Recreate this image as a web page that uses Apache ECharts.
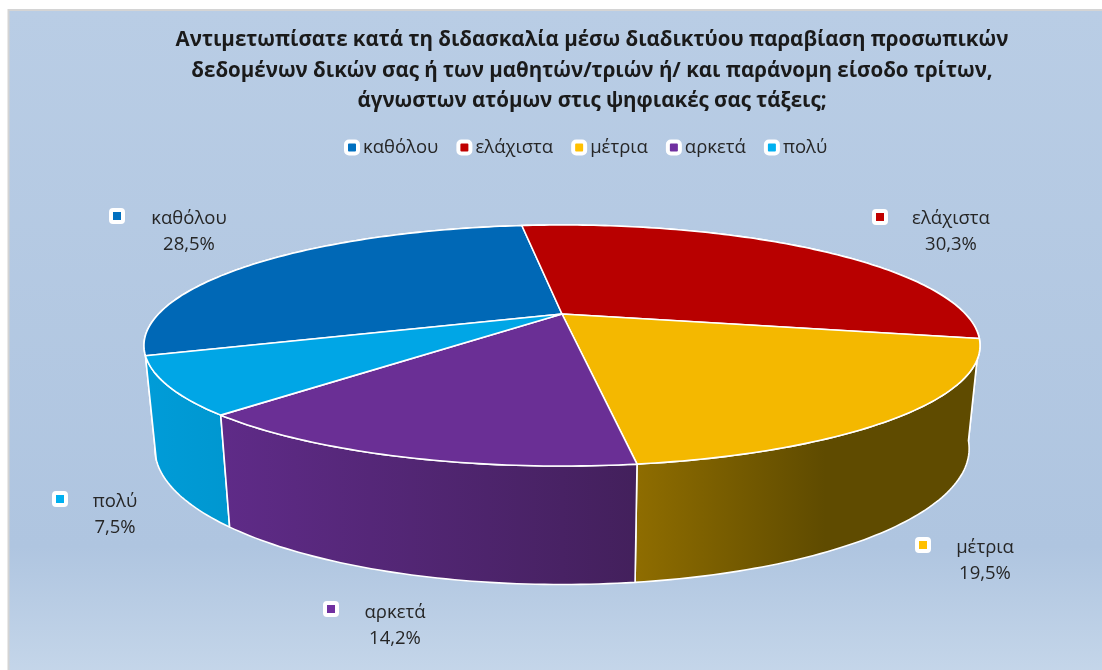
<!DOCTYPE html>
<html><head><meta charset="utf-8">
<style>html,body{margin:0;padding:0;background:#fff}#c{width:1102px;height:670px}</style>
<script src="https://cdn.jsdelivr.net/npm/echarts@6/dist/echarts.min.js"></script>
</head><body><div id="c"></div>
<script>
var categories = ['καθόλου','ελάχιστα','μέτρια','αρκετά','πολύ'];
var percents = [28.5,30.3,19.5,14.2,7.5];
var topColors = ['#0068b6','#b80000','#f4b800','#6a2f95','#00a6e6'];
var legendColors = ['#0070c0','#c00000','#ffc000','#7030a0','#00b0f0'];
var wallLeft = ['#004f8a','#8a0000','#8f6d00','#5f2b88','#009cd8'];
var wallRight = ['#004f8a','#8a0000','#5f4b00','#43205c','#0097d0'];
var wallMid = [1,1,0.55,1,1];
var wallOrder = [1,0,3,4,2];
var labelPos = [[117,216,189,219],[880,217,951,219],[923,545,985,548],[331,609,395,613],[60,499,115,502]];
var title = 'Αντιμετωπίσατε κατά τη διδασκαλία μέσω διαδικτύου παραβίαση προσωπικών\nδεδομένων δικών σας ή των μαθητών/τριών ή/ και παράνομη είσοδο τρίτων,\nάγνωστων ατόμων στις ψηφιακές σας τάξεις;';

var FONT = '"Open Sans"';
var START = 250.2, K = 0.2614, CX = 562;
var topDisc = {y:314, R:403.5, H:112.3};
var botDisc = {y:413, R:393, H:126.7};
function proj(d,a){var r=a*Math.PI/180,u=Math.sin(r),v=-Math.cos(r),w=1-K*v;
  return [CX+d.R*u/w, d.y+d.H*v/w];}
function arc(d,a0,a1){var n=Math.max(2,Math.ceil((a1-a0)/1)),p=[];
  for(var i=0;i<=n;i++)p.push(proj(d,a0+(a1-a0)*i/n));return p;}
var cumulative=[];percents.reduce(function(s,v,i){cumulative[i]=s;return s+v;},0);

function renderSlice(i){return function(params,api){
  var a0=START+api.value(0)*3.6, a1=a0+api.value(1)*3.6;
  var topArc=arc(topDisc,a0,a1), botArc=arc(botDisc,a0,a1).reverse();
  var lp=labelPos[i];
  var pct=api.value(1).toFixed(1).replace('.',',')+'%';
  return {type:'group',children:[
    {type:'polygon',z2:1+wallOrder[i],shape:{points:topArc.concat(botArc)},
     style:{fill:{type:'linear',x:0,y:0,x2:1,y2:0,colorStops:[
       {offset:0,color:wallLeft[i]},{offset:wallMid[i],color:wallRight[i]},{offset:1,color:wallRight[i]}]},
       stroke:'#fff',lineWidth:1.6,lineJoin:'round'}},
    {type:'polygon',z2:10,shape:{points:[[CX,topDisc.y]].concat(topArc)},
     style:{fill:topColors[i],stroke:'#fff',lineWidth:1.6,lineJoin:'round'}},
    {type:'rect',z2:20,shape:{x:lp[0]-6,y:lp[1]-6,width:12,height:12,r:2},
     style:{fill:legendColors[i],stroke:'#fff',lineWidth:4}},
    {type:'text',z2:20,style:{x:lp[2],y:lp[3],text:categories[i],fill:'#262626',
      font:'18.5px '+FONT,textAlign:'center',textVerticalAlign:'middle'}},
    {type:'text',z2:20,style:{x:lp[2],y:lp[3]+26,text:pct,fill:'#262626',
      font:'18.5px '+FONT,textAlign:'center',textVerticalAlign:'middle'}}
  ]};
};}

var chart=echarts.init(document.getElementById('c'),null,{renderer:'canvas'});
chart.setOption({
  animation:false,
  backgroundColor:'#fff',
  graphic:[{type:'rect',z:-10,silent:true,shape:{x:8.5,y:10,width:1100,height:670},
    style:{stroke:'#d4d4d4',lineWidth:2,fill:{type:'linear',x:0,y:0,x2:0,y2:1,colorStops:[
      {offset:0,color:'#b9cde5'},{offset:0.8,color:'#afc5e0'},{offset:1,color:'#c6d7ea'}]}}}],
  title:{text:title,left:587,top:20,textAlign:'center',
    textStyle:{fontFamily:FONT,fontWeight:'bold',fontSize:20.5,lineHeight:30.5,color:'#1a1a1a'}},
  legend:{top:133,left:339,icon:'roundRect',itemWidth:12,itemHeight:12,itemGap:18,
    textStyle:{fontFamily:FONT,fontSize:18.5,color:'#262626'},
    data:categories.map(function(n,i){return {name:n,itemStyle:{color:legendColors[i],borderColor:'#fff',borderWidth:4}};})},
  series:categories.map(function(n,i){return {
    type:'custom',name:n,coordinateSystem:'none',silent:true,
    itemStyle:{color:legendColors[i]},
    renderItem:renderSlice(i),
    data:[[cumulative[i],percents[i]]]
  };})
});
</script></body></html>
